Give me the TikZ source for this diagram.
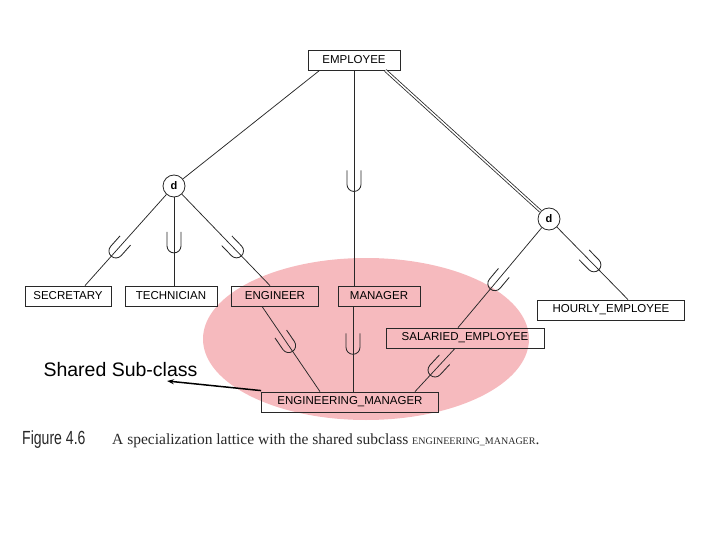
\documentclass[tikz,border=0pt]{standalone}
\usepackage{fontspec}
\setmainfont{Liberation Serif}
\newfontfamily\boxfont{Liberation Sans}
\usetikzlibrary{arrows.meta}
\definecolor{lattpink}{RGB}{246,186,190}
\definecolor{lineclr}{RGB}{40,40,40}
\begin{document}
\begin{tikzpicture}[x=1pt,y=-1pt,
  cls/.style={draw=lineclr,line width=0.8pt,minimum height=20pt,inner sep=0pt,
    font=\boxfont\fontsize{11.5}{13}\selectfont},
  disj/.style={draw=lineclr,line width=0.8pt,circle,minimum size=22pt,inner sep=0pt,
    font=\boxfont\bfseries\fontsize{11}{12}\selectfont},
  link/.style={draw=lineclr,line width=0.75pt},
  usym/.pic={\draw[lineclr,line width=0.85pt] (-14,7) -- (0,7) arc (90:-90:7) -- (-14,-7);}]
\useasboundingbox (0,0) rectangle (720,540);

% shared subclass highlight
\fill[lattpink] (366,339) ellipse (163 and 81);

\node[cls,minimum width=92pt] (emp) at (354,60) {EMPLOYEE};
\node[disj] (d1) at (174,186) {d};
\node[disj] (d2) at (549,219) {d};

\node[cls,minimum width=86pt] (sec) at (68,296) {SECRETARY};
\node[cls,minimum width=92pt] (tech) at (171,296) {TECHNICIAN};
\node[cls,minimum width=87pt] (eng) at (275,296) {ENGINEER};
\node[cls,minimum width=82pt] (man) at (379,296) {MANAGER};
\node[cls,minimum width=147pt] (hour) at (611,310) {HOURLY\_EMPLOYEE};
\node[cls,minimum width=158pt] (sal) at (465,338) {SALARIED\_EMPLOYEE};
\node[cls,minimum width=177pt] (engman) at (350,402) {ENGINEERING\_MANAGER};

% superclass links
\draw[link] ([xshift=12pt]emp.south west) -- (d1);
\draw[link] (emp.south) -- pic[pos=0.53,sloped,allow upside down]{usym} (man.north -| emp.south);
\draw[draw=lineclr,double=white,double distance=1.5pt,line width=0.8pt] ([xshift=-15pt]emp.south east) -- (d2);

\draw[link] (d1) -- pic[pos=0.62,sloped,allow upside down]{usym} ([xshift=17pt]sec.north);
\draw[link] (d1) -- pic[pos=0.55,sloped,allow upside down]{usym} (tech.north -| d1);
\draw[link] (d1) -- pic[pos=0.62,sloped,allow upside down]{usym} ([xshift=-5pt]eng.north);

\draw[link] (d2) -- pic[pos=0.56,sloped,allow upside down]{usym} ([xshift=-7pt]sal.north);
\draw[link] (d2) -- pic[pos=0.52,sloped,allow upside down]{usym} ([xshift=17pt]hour.north);

% the shared subclass
\draw[link] ([xshift=-13pt]eng.south) -- pic[pos=0.46,sloped,allow upside down]{usym} ([xshift=-30pt]engman.north);
\draw[link] ([xshift=-26pt]man.south) -- pic[pos=0.48,sloped,allow upside down]{usym} ([xshift=3pt]engman.north);
\draw[link] ([xshift=-10pt]sal.south) -- pic[pos=0.5,sloped,allow upside down]{usym} ([xshift=65pt]engman.north);

\node[font=\boxfont\fontsize{19.5}{22}\selectfont,anchor=west] (shared) at (40,370) {Shared Sub-class};
\coordinate (tip) at (167,381);
\draw[line width=1.5pt,-{Stealth[length=7pt,width=5pt]}] ([yshift=1pt]engman.north west) -- (tip);

% caption
\node[anchor=west,inner sep=0pt,text=lineclr] (fignum) at (22,440)
  {\boxfont\fontsize{19}{21}\selectfont\scalebox{0.74}[1]{Figure 4.6}};
\node[anchor=west,inner sep=0pt,text=lineclr] (caption) at (112,441)
  {\fontsize{15.5}{17}\selectfont A specialization lattice with the shared subclass
   {\fontsize{10}{11}\selectfont ENGINEERING\_MANAGER}.};
\end{tikzpicture}
\end{document}
